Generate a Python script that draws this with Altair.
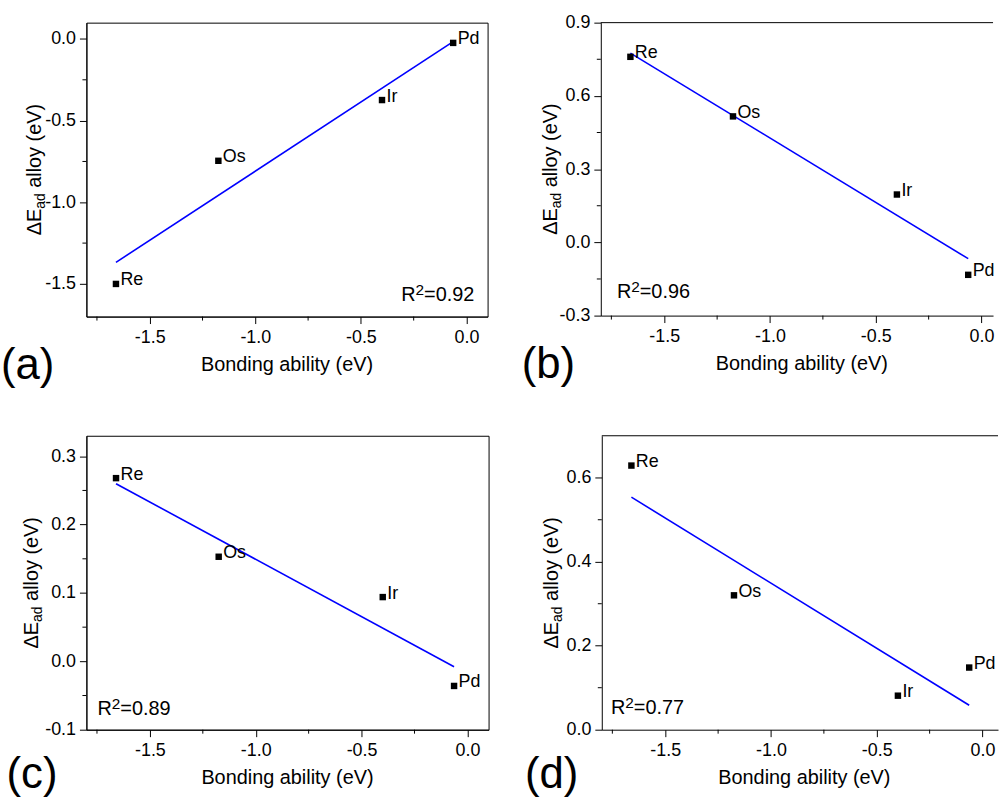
import altair as alt
import pandas as pd

# ---------------- data ----------------
elements = ["Re", "Os", "Ir", "Pd"]
bonding_ability = [-1.66, -1.175, -0.40, -0.063]
dE_a = [-1.500, -0.746, -0.374, -0.024]
dE_b = [0.760, 0.516, 0.196, -0.133]
dE_c = [0.268, 0.153, 0.094, -0.036]
dE_d = [0.629, 0.320, 0.081, 0.148]
r2_values = ["0.92", "0.96", "0.89", "0.77"]
panel_tags = ["(a)", "(b)", "(c)", "(d)"]

x_major_ticks = [-1.5, -1.0, -0.5, 0.0]
x_minor_ticks = [-1.75, -1.25, -0.75, -0.25]
y_major_a = [-1.5, -1.0, -0.5, 0.0]
y_minor_a = [-1.25, -0.75, -0.25]
y_major_b = [-0.3, 0.0, 0.3, 0.6, 0.9]
y_minor_b = [-0.15, 0.15, 0.45, 0.75]
y_major_c = [-0.1, 0.0, 0.1, 0.2, 0.3]
y_minor_c = [-0.05, 0.05, 0.15, 0.25]
y_major_d = [0.0, 0.2, 0.4, 0.6]
y_minor_d = [0.1, 0.3, 0.5]

x_title = "Bonding ability (eV)"
y_title_main = "\u0394E"
y_title_sub = "ad"
y_title_rest = "alloy (eV)"

# ---------------- style ----------------
FONT = "Liberation Sans"
TICK_FS = 18
TITLE_FS = 20
SUB_FS = 14
TAG_FS = 44
ARIAL = {" ": 0.278, "(": 0.333, ")": 0.333, "a": 0.556, "d": 0.556, "e": 0.556,
         "l": 0.222, "o": 0.556, "y": 0.5, "E": 0.667, "V": 0.667, "\u0394": 0.668,
         "R": 0.722, "=": 0.584, ".": 0.278}
for _c in "0123456789":
    ARIAL[_c] = 0.556


def tw(s, fs):
    return sum(ARIAL.get(c, 0.556) for c in s) * fs


PX_PER_UNIT = 213.0

layouts = {
    "a": dict(W=404, H=296, xd=[-1.8, 0.1], yd=[-1.7, 0.1], L=-86, R=413, T=-18, B=382,
              tag=(-86, 359), ytx=-46, xtc=202, r2=(317, 280.3), box=True),
    "b": dict(W=395, H=295, xd=[-1.8, -1.8 + 395 / PX_PER_UNIT], yd=[-0.3, 0.9],
              L=-103.3, R=395, T=-19, B=381, tag=(-79.6, 358), ytx=-44.3, xtc=202.5,
              r2=(16.2, 277.7), box=False),
    "c": dict(W=405, H=296, xd=[-1.8, 0.1], yd=[-0.1, 0.33], L=-80.7, R=418.3, T=-31.7,
              B=365.3, tag=(-80.4, 355), ytx=-48.4, xtc=202.5, r2=(11.1, 281.6), box=True),
    "d": dict(W=399, H=296, xd=[-1.8, -1.8 + 399 / PX_PER_UNIT], yd=[0.0, 0.7],
              L=-99.3, R=399, T=-31.7, B=365.3, tag=(-77.3, 355), ytx=-43.6, xtc=204,
              r2=(9.2, 280), box=False),
}

MINUS_FIX = "replace(format(datum.value, '.1f'), '\u2212', '-')"
one_row = pd.DataFrame({"k": [0]})


def text_layer(txt, x, y, fs, align="left", baseline="alphabetic", angle=0):
    kw = dict(text=txt, fontSize=fs, font=FONT, color="black", align=align, baseline=baseline)
    if angle:
        kw["angle"] = angle
    return alt.Chart(one_row).mark_text(**kw).encode(x=alt.value(x), y=alt.value(y))


def panel(dE, y_major, y_minor, tag, r2, lay):
    W, H = lay["W"], lay["H"]
    pts = pd.DataFrame({"x": bonding_ability, "y": dE, "el": elements})
    xs = alt.Scale(domain=lay["xd"], nice=False, zero=False)
    ys = alt.Scale(domain=lay["yd"], nice=False, zero=False)
    common = dict(title=None, grid=False, tickSize=7, labelFontSize=TICK_FS, labelFont=FONT,
                  labelColor="black", domainColor="black", tickColor="black", domainWidth=1,
                  tickWidth=1, labelExpr=MINUS_FIX, labelFlush=False)
    X = alt.X("x:Q", scale=xs, axis=alt.Axis(values=x_major_ticks, labelPadding=5, **common))
    Y = alt.Y("y:Q", scale=ys, axis=alt.Axis(values=y_major, labelPadding=4, **common))

    anchor = alt.Chart(one_row).mark_rule(opacity=0, strokeWidth=0).encode(
        x=alt.value(lay["L"]), x2=alt.value(lay["R"]), y=alt.value(lay["T"]), y2=alt.value(lay["B"]))
    xminor = alt.Chart(pd.DataFrame({"x": x_minor_ticks})).mark_rule(color="black", strokeWidth=1).encode(
        x=X, y=alt.value(H), y2=alt.value(H + 4))
    yminor = alt.Chart(pd.DataFrame({"y": y_minor})).mark_rule(color="black", strokeWidth=1).encode(
        y=Y, x=alt.value(0), x2=alt.value(-4))
    base = alt.Chart(pts)
    fit = base.transform_regression("x", "y").mark_line(color="#0000ff", strokeWidth=1.6).encode(x=X, y=Y)
    sq = base.mark_square(size=42, color="black", opacity=1).encode(x=X, y=Y)
    lbl = base.mark_text(align="left", baseline="alphabetic", dx=4.5, dy=1.5, fontSize=TICK_FS,
                         font=FONT, color="black").encode(x=X, y=Y, text="el:N")

    layers = [anchor, xminor, yminor, fit, sq, lbl]

    # panel tag
    layers.append(text_layer(tag, lay["tag"][0], lay["tag"][1], TAG_FS))
    # x title
    layers.append(text_layer(x_title, lay["xtc"], H + 55, TITLE_FS, align="center"))
    # y title with subscript (rotated)
    w_main = tw(y_title_main, TITLE_FS)
    w_sub = tw(y_title_sub, SUB_FS)
    w_space = tw(" ", TITLE_FS)
    w_total = w_main + w_sub + w_space + tw(y_title_rest, TITLE_FS)
    y0 = H / 2 + w_total / 2
    bx = lay["ytx"]
    layers.append(text_layer(y_title_main, bx, y0, TITLE_FS, angle=270))
    layers.append(text_layer(y_title_sub, bx + 4, y0 - w_main, SUB_FS, angle=270))
    layers.append(text_layer(y_title_rest, bx, y0 - w_main - w_sub - w_space, TITLE_FS, angle=270))
    # R^2 annotation
    rx, ry = lay["r2"]
    layers.append(text_layer("R", rx, ry, TITLE_FS))
    layers.append(text_layer("2", rx + tw("R", TITLE_FS), ry - 6, 15.5))
    layers.append(text_layer("=" + r2, rx + tw("R", TITLE_FS) + tw("2", 15.5), ry, TITLE_FS))

    if lay["box"]:
        view = alt.ViewBackground(stroke="black", strokeWidth=1, fill="white")
    else:
        view = alt.ViewBackground(stroke="transparent", fill="white")
        layers.append(alt.Chart(one_row).mark_rule(color="black", strokeWidth=1).encode(
            x=alt.value(0), x2=alt.value(W), y=alt.value(0)))

    return alt.layer(*layers).properties(width=W, height=H, view=view)


pa = panel(dE_a, y_major_a, y_minor_a, panel_tags[0], r2_values[0], layouts["a"])
pb = panel(dE_b, y_major_b, y_minor_b, panel_tags[1], r2_values[1], layouts["b"])
pc = panel(dE_c, y_major_c, y_minor_c, panel_tags[2], r2_values[2], layouts["c"])
pd_ = panel(dE_d, y_major_d, y_minor_d, panel_tags[3], r2_values[3], layouts["d"])

row1 = alt.hconcat(pa, pb, spacing=0)
row2 = alt.hconcat(pc, pd_, spacing=0)
chart = alt.vconcat(row1, row2, spacing=0).properties(padding=0, background="white")

chart.save("out.html", embed_options={"renderer": "svg", "actions": False})
